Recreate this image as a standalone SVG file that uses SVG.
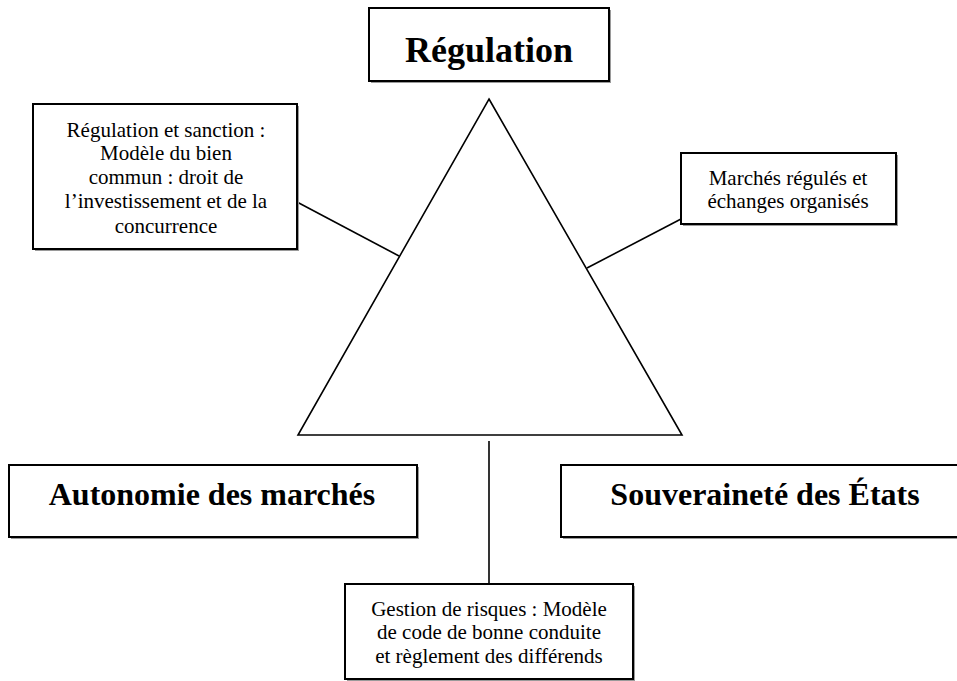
<svg xmlns="http://www.w3.org/2000/svg" width="957" height="681" viewBox="0 0 957 681">
<style>
.box{fill:#fff;stroke:#000;stroke-width:2}
.sh{fill:#9a9a9a}
.line{stroke:#000;stroke-width:1.6;fill:none}
.big{font-family:"Liberation Serif","Times New Roman",serif;font-weight:bold;font-size:32px;text-anchor:middle;fill:#000}
.small{font-family:"Liberation Serif","Times New Roman",serif;font-size:21px;text-anchor:middle;fill:#000}
</style>
<rect width="957" height="681" fill="#fff"/>
<g id="connectors">
<polygon class="line" points="489,99 682,435 298,435"/>
<line class="line" x1="297" y1="202" x2="399" y2="256"/>
<line class="line" x1="681" y1="219" x2="587" y2="268"/>
<line class="line" x1="489" y1="441" x2="489" y2="584"/>
</g>
<g id="regulation">
<rect class="sh" x="371" y="10" width="240" height="73"/>
<rect class="box" x="369" y="8" width="240" height="73"/>
<text class="big" x="489" y="62" style="font-size:36px">Régulation</text>
</g>
<g id="sanction">
<rect class="sh" x="35" y="106" width="264" height="145"/>
<rect class="box" x="33" y="104" width="264" height="145"/>
<text class="small" x="166" y="137">Régulation et sanction :</text>
<text class="small" x="166" y="160">Modèle du bien</text>
<text class="small" x="166" y="184">commun : droit de</text>
<text class="small" x="166" y="208">l’investissement et de la</text>
<text class="small" x="166" y="233">concurrence</text>
</g>
<g id="marches">
<rect class="sh" x="683" y="155" width="215" height="71"/>
<rect class="box" x="681" y="153" width="215" height="71"/>
<text class="small" x="788" y="185">Marchés régulés et</text>
<text class="small" x="788" y="208">échanges organisés</text>
</g>
<g id="autonomie">
<rect class="sh" x="11" y="467" width="408" height="72"/>
<rect class="box" x="9" y="465" width="408" height="72"/>
<text class="big" x="212" y="505">Autonomie des marchés</text>
</g>
<g id="souverainete">
<rect class="sh" x="563" y="467" width="407" height="72"/>
<rect class="box" x="561" y="465" width="407" height="72"/>
<text class="big" x="765" y="505">Souveraineté des États</text>
</g>
<g id="gestion">
<rect class="sh" x="347" y="586" width="288" height="95"/>
<rect class="box" x="345" y="584" width="288" height="95"/>
<text class="small" x="489" y="616">Gestion de risques : Modèle</text>
<text class="small" x="489" y="639">de code de bonne conduite</text>
<text class="small" x="489" y="663">et règlement des différends</text>
</g>
</svg>
